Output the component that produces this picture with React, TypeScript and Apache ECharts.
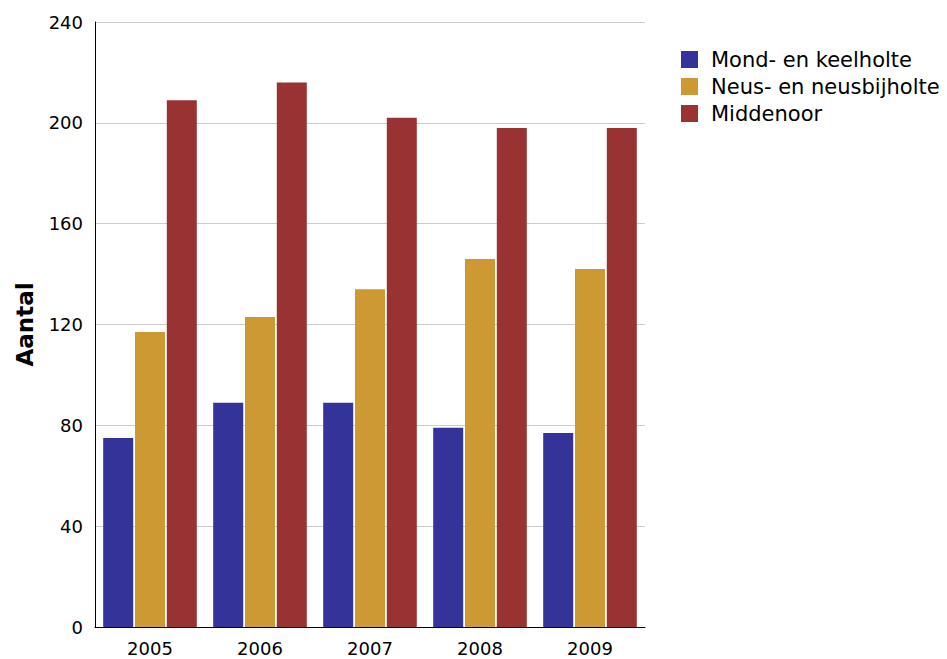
import React, { useEffect, useRef } from "react";
import * as echarts from "echarts";

const years = ["2005", "2006", "2007", "2008", "2009"];
const mondKeelholte = [75, 89, 89, 79, 77];
const neusBijholte = [117, 123, 134, 146, 142];
const middenoor = [209, 216, 202, 198, 198];
const seriesNames = ["Mond- en keelholte", "Neus- en neusbijholte", "Middenoor"];
const colors = ["#333399", "#CC9933", "#993333"];

export default function App() {
  const ref = useRef<HTMLDivElement>(null);
  useEffect(() => {
    const chart = echarts.init(ref.current!, null, { renderer: "svg" });
    const font = "'DejaVu Sans', Verdana, sans-serif";
    const data = [mondKeelholte, neusBijholte, middenoor];
    chart.setOption({
      animation: false,
      textStyle: { fontFamily: font },
      grid: { left: 95, right: 302, top: 22, bottom: 32 },
      legend: {
        orient: "vertical",
        left: 676,
        top: 44,
        itemWidth: 17,
        itemHeight: 17,
        itemGap: 6,
        icon: "rect",
        textStyle: { fontSize: 21, lineHeight: 20, color: "#000", fontFamily: font, padding: [0, 0, 0, 8] },
        data: seriesNames,
      },
      xAxis: {
        type: "category",
        data: years,
        axisLine: { lineStyle: { color: "#000", width: 1 } },
        axisTick: { show: false },
        axisLabel: { fontSize: 18, color: "#000", margin: 12, fontFamily: font },
      },
      yAxis: {
        type: "value",
        min: 0,
        max: 240,
        interval: 40,
        name: "Aantal",
        nameLocation: "middle",
        nameGap: 59,
        nameTextStyle: { fontSize: 23, fontWeight: "bold", color: "#000", fontFamily: font },
        axisLine: { show: true, lineStyle: { color: "#000", width: 1 } },
        axisTick: { show: false },
        axisLabel: { fontSize: 18, color: "#000", margin: 12, fontFamily: font },
        splitLine: { lineStyle: { color: "#cccccc", width: 1 } },
      },
      series: seriesNames.map((n, i) => ({
        name: n,
        type: "bar",
        data: data[i],
        barWidth: 30,
        barGap: "6%",
        itemStyle: { color: colors[i] },
      })),
    });
    return () => chart.dispose();
  }, []);
  return <div ref={ref} style={{ width: 947, height: 659, position: "absolute", left: 0, top: 0 }} />;
}
